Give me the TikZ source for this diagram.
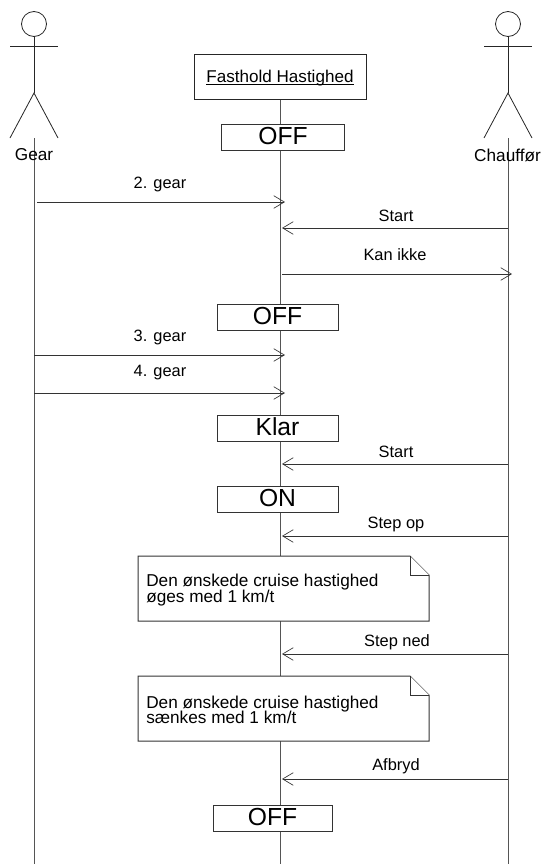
\documentclass[tikz,border=0pt]{standalone}
\usepackage{fontspec}
\setmainfont{Liberation Sans}
\usepackage{xcolor}
\usetikzlibrary{positioning,calc,arrows.meta}
\definecolor{seqline}{HTML}{555555}

\begin{document}
\begin{tikzpicture}[
  x=0.75pt, y=-0.75pt,
  lifeline/.style={seqline, line width=0.75pt},
  figline/.style={black!85, line width=0.6pt},
  statebox/.style={draw=black!80, fill=white, line width=0.75pt, inner sep=0pt, font=\fontsize{18.5}{18.5}\selectfont, text depth=2pt, minimum height=19.5pt},
  titlebox/.style={draw=black!85, fill=white, line width=0.75pt, inner sep=0pt, font=\fontsize{12.8}{14}\selectfont, minimum width=129pt, minimum height=33.75pt},
  msglabel/.style={font=\fontsize{12.3}{14}\selectfont, inner sep=0pt},
  actorlabel/.style={font=\fontsize{12.9}{14}\selectfont, inner sep=0pt},
  notetext/.style={font=\fontsize{12.9}{12}\selectfont, align=left, anchor=west, inner sep=0pt},
  msgarrow/.style={-{Straight Barb[length=8pt, width=9.5pt, line width=0.5pt]}, black!80, line width=0.6pt},
  notebody/.style={draw=black!80, fill=white, line width=0.75pt, line join=miter},
]
\useasboundingbox (0,0) rectangle (542,864);

% Lifeline ends
\coordinate (gearTop) at (34,138);
\coordinate (gearEnd) at (34,864);
\coordinate (ctrlTop) at (280,99);
\coordinate (ctrlEnd) at (280,864);
\coordinate (chaufTop) at (508,138);
\coordinate (chaufEnd) at (508,864);

\draw[lifeline] (gearTop) -- (gearEnd);
\draw[lifeline] (ctrlTop) -- (ctrlEnd);
\draw[lifeline] (chaufTop) -- (chaufEnd);

% Two actors
\foreach \xc in {34,508} {
  \draw[figline] (\xc,24) circle (12.5);
  \draw[figline] (\xc,36.5) -- (\xc,93);
  \draw[figline] (\xc-24,46) -- (\xc+24,46);
  \draw[figline] (\xc-24,138) -- (\xc,93) -- (\xc+24,138);
}
\node[actorlabel] (gear) at (34,155) {Gear};
\node[actorlabel] (chauf) at (507.5,155) {Chauffør};

% Title and states
\node[titlebox] (title) at (280,76.5) {\smash{\raisebox{-4.2pt}{\underline{\smash{Fasthold Hastighed}}}}};
\node[statebox, minimum width=92pt] (off1) at (283,137.5) {OFF};
\node[statebox, minimum width=90.75pt] (off2) at (277.5,317) {OFF};
\node[statebox, minimum width=90.75pt] (klar) at (277.5,428) {Klar};
\node[statebox, minimum width=90.75pt] (on) at (277.5,499) {ON};
\node[statebox, minimum width=89.25pt] (off3) at (272.5,818) {OFF};

% Messages
\coordinate (froma) at (37,202);
\coordinate (toa) at (285,202);
\draw[msgarrow] (froma) -- (toa);
\foreach \yy/\nm in {355/b, 393/c} {
  \coordinate (from\nm) at (34,\yy);
  \coordinate (to\nm) at (285,\yy);
  \draw[msgarrow] (from\nm) -- (to\nm);
}
\foreach \yy/\nm in {228/d, 464/e, 536/f, 654/g, 779/h} {
  \coordinate (from\nm) at (508,\yy);
  \coordinate (to\nm) at (282,\yy);
  \draw[msgarrow] (from\nm) -- (to\nm);
}
\coordinate (fromk) at (282,274);
\coordinate (tok) at (512,274);
\draw[msgarrow] (fromk) -- (tok);

\node[msglabel] (gear2) at (160,184) {2. gear};
\node[msglabel] (start1) at (396,215.5) {Start};
\node[msglabel] (kanikke) at (395,255) {Kan ikke};
\node[msglabel] (gear3) at (160,337) {3. gear};
\node[msglabel] (gear4) at (160,373) {4. gear};
\node[msglabel] (start2) at (396,451.5) {Start};
\node[msglabel] (stepop) at (396,524) {Step op};
\node[msglabel] (stepned) at (397,642) {Step ned};
\node[msglabel] (afbryd) at (396,766) {Afbryd};

% Notes
\foreach \yt/\nm/\txt in {556/noteop/{Den ønskede cruise hastighed\\[-1.5pt]øges med 1 km/t}, 676/notened/{Den ønskede cruise hastighed\\[-1.5pt]sænkes med 1 km/t}} {
  \draw[notebody] (138,\yt) -- (410,\yt) -- (429,\yt+19) -- (429,\yt+65) -- (138,\yt+65) -- cycle;
  \draw[notebody] (410,\yt) -- (410,\yt+19) -- (429,\yt+19);
  \node[notetext] (\nm) at (146,\yt+34) {\txt};
}
\end{tikzpicture}
\end{document}
